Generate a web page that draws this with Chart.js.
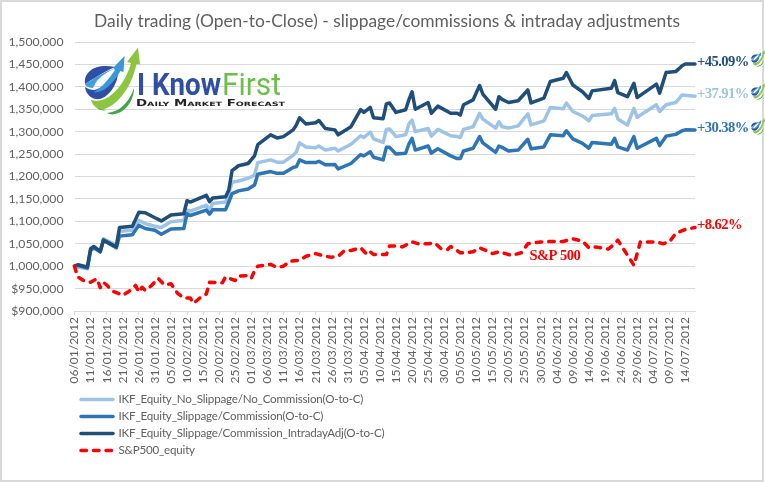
<!DOCTYPE html>
<html>
<head>
<meta charset="utf-8">
<title>Daily trading</title>
<script src="https://cdn.jsdelivr.net/npm/chart.js@4"></script>
<style>
  html, body { margin: 0; padding: 0; background: #fff; overflow: hidden; }
  #wrap { position: relative; width: 765px; height: 482px; overflow: hidden; }
  #frame { position: absolute; left: 0; top: 0; width: 760px; height: 478px; border: 2px solid #d9d9d9; }
  canvas { position: absolute; left: 0; top: 0; }
  svg { position: absolute; left: 0; top: 0; }
</style>
</head>
<body>
<div id="wrap">
  <div id="frame"></div>
  <canvas id="equityChart" width="765" height="482"></canvas>
  <svg width="765" height="482" viewBox="0 0 765 482">
    <defs>
      <g id="logoMark">
        <path d="M115 67 C105 65 95 66 90 71 C85 75 84.5 80 85 84 C92 80 103 72 115 67 Z" fill="#2f4fa6"/>
        <path d="M85 84 C92 80 103 72 113.5 69 C105 74 97 80 93 88 C90 88 87 87 85 85 Z" fill="#3fa0dc"/>
        <path d="M85 87 C88 89 91 90 94 90 C100 90 110 80 118 72 C118 85 108 97 100 99 C92 100 86 95 85 87 Z" fill="#2f4fa6"/>
        <path d="M93 92 C100 90 108 80 115 70 L113 68 L124.5 56 L123.5 72 L120.5 71 C113 84 103 94 93 92 Z" fill="#3a97d8"/>
        <path d="M96 84 C100 78 106 74 112 71" fill="none" stroke="#ffffff" stroke-width="2"/>
        <path d="M91 100 C108 105 125 85 131 63 L127 62 L138 47.5 L140 64.5 L136.5 64 C131 90 115 108 100 110 C96 108 92 104 91 100 Z" fill="#8cc63f"/>
        <path d="M91 101 C94 107 100 110 107 110 C103 111 100 110.500 98 108 C95 107 93 104 91 101 Z" fill="#3fa648"/>
        <path d="M107 113 C118 112 128 105 134 88 C134 100 126 112 115 114 C112 115 109 114 107 113 Z" fill="#3fa648"/>
      </g>
    </defs>
    <use href="#logoMark"/>
    <text x="137" y="95" font-family="Roboto" font-weight="700" font-size="31" fill="#2f4fa6" textLength="84" lengthAdjust="spacingAndGlyphs">I Know</text>
    <text x="222" y="95" font-family="Roboto" font-size="31" fill="#6abf45" textLength="59" lengthAdjust="spacingAndGlyphs">First</text>
    <text x="136" y="105.5" font-family="DejaVu Sans" font-weight="700" font-size="8.5" fill="#222" textLength="149" lengthAdjust="spacingAndGlyphs" style="font-variant: small-caps">Daily Market Forecast</text>
    <use href="#logoMark" transform="translate(730 38) scale(0.25)"/>
    <use href="#logoMark" transform="translate(730 71) scale(0.25)"/>
    <use href="#logoMark" transform="translate(730 106) scale(0.25)"/>
  </svg>
</div>
<script>
const titleText = 'Daily trading (Open-to-Close) - slippage/commissions & intraday adjustments';
const seriesNames = [
  'IKF_Equity_No_Slippage/No_Commission(O-to-C)',
  'IKF_Equity_Slippage/Commission(O-to-C)',
  'IKF_Equity_Slippage/Commission_IntradayAdj(O-to-C)',
  'S&P500_equity'
];
const finalLabels = ['+37.91%', '+30.38%', '+45.09%', '+8.62%'];
const seriesColors = ['#9dc3e6', '#2e75b6', '#1f4e79', '#ff0000'];
const inkColor = '#5f5f5f';

// dd/mm of the turning points, 2012
const equityDates = [
  '06/01', '07/01', '10/01', '11/01', '12/01', '14/01', '15/01', '19/01', '20/01', '24/01',
  '26/01', '28/01', '31/01', '02/02', '05/02', '09/02', '10/02', '11/02', '16/02', '17/02',
  '18/02', '22/02', '23/02', '24/02', '26/02', '29/02', '02/03', '03/03', '07/03', '09/03',
  '11/03', '14/03', '15/03', '16/03', '18/03', '21/03', '22/03', '24/03', '27/03', '28/03',
  '01/04', '04/04', '05/04', '07/04', '08/04', '11/04', '12/04', '13/04', '15/04', '18/04',
  '19/04', '20/04', '21/04', '25/04', '26/04', '28/04', '02/05', '04/05', '05/05', '06/05',
  '09/05', '11/05', '12/05', '16/05', '17/05', '18/05', '20/05', '23/05', '26/05', '27/05',
  '31/05', '02/06', '06/06', '07/06', '09/06', '12/06', '14/06', '15/06', '21/06', '22/06',
  '23/06', '26/06', '28/06', '29/06', '05/07', '06/07', '08/07', '11/07', '13/07', '14/07',
  '17/07'
];
// equity in thousands of dollars
const noSlippage = [
  1000, 998, 994, 1035, 1041, 1032, 1061, 1047, 1078, 1080,
  1102, 1095, 1089, 1086, 1099, 1102, 1125, 1123, 1136, 1125,
  1140, 1143, 1162, 1187, 1190, 1196, 1203, 1231, 1237, 1232,
  1232, 1247, 1255, 1275, 1266, 1264, 1268, 1259, 1263, 1257,
  1272, 1291, 1287, 1299, 1284, 1276, 1305, 1306, 1289, 1293,
  1317, 1326, 1300, 1307, 1290, 1305, 1291, 1289, 1287, 1305,
  1311, 1341, 1328, 1308, 1322, 1311, 1308, 1313, 1340, 1315,
  1324, 1354, 1351, 1364, 1345, 1335, 1324, 1336, 1340, 1352,
  1328, 1315, 1352, 1332, 1360, 1345, 1360, 1365, 1382, 1381,
  1379.1
];
const slippage = [
  1000, 1002, 996, 1035, 1041, 1032, 1058, 1041, 1067, 1070,
  1091, 1084, 1080, 1071, 1083, 1084, 1117, 1113, 1125, 1116,
  1126, 1126, 1143, 1162, 1168, 1172, 1181, 1205, 1211, 1207,
  1207, 1220, 1222, 1237, 1231, 1231, 1234, 1226, 1227, 1217,
  1229, 1249, 1246, 1255, 1243, 1237, 1265, 1265, 1250, 1252,
  1272, 1285, 1259, 1268, 1252, 1262, 1246, 1240, 1240, 1257,
  1263, 1289, 1275, 1254, 1268, 1265, 1257, 1259, 1283, 1262,
  1266, 1293, 1291, 1302, 1284, 1274, 1263, 1276, 1272, 1285,
  1266, 1259, 1289, 1263, 1285, 1269, 1290, 1294, 1302, 1304,
  1303.8
];
const intradayAdj = [
  1000, 1003, 998, 1039, 1044, 1033, 1058, 1043, 1086, 1089,
  1120, 1119, 1108, 1101, 1114, 1117, 1146, 1143, 1158, 1144,
  1152, 1155, 1170, 1213, 1224, 1229, 1246, 1271, 1293, 1286,
  1289, 1304, 1315, 1331, 1317, 1320, 1325, 1307, 1304, 1293,
  1311, 1349, 1343, 1354, 1331, 1329, 1362, 1364, 1343, 1349,
  1371, 1389, 1350, 1365, 1341, 1357, 1341, 1341, 1337, 1360,
  1371, 1403, 1384, 1350, 1378, 1372, 1365, 1369, 1393, 1364,
  1375, 1412, 1419, 1432, 1404, 1389, 1374, 1391, 1397, 1414,
  1387, 1378, 1408, 1376, 1406, 1386, 1432, 1434, 1447, 1451,
  1450.9
];

const spDates = [
  '06/01', '07/01', '09/01', '11/01', '13/01', '14/01', '15/01', '16/01', '18/01', '21/01',
  '23/01', '25/01', '26/01', '27/01', '28/01', '30/01', '01/02', '03/02', '05/02', '07/02',
  '09/02', '11/02', '12/02', '14/02', '16/02', '17/02', '21/02', '22/02', '25/02', '26/02',
  '29/02', '01/03', '02/03', '03/03', '07/03', '09/03', '11/03', '13/03', '16/03', '18/03',
  '21/03', '24/03', '26/03', '28/03', '30/03', '01/04', '04/04', '06/04', '07/04', '08/04',
  '12/04', '13/04', '15/04', '17/04', '20/04', '22/04', '25/04', '27/04', '29/04', '01/05',
  '02/05', '05/05', '07/05', '09/05', '11/05', '13/05', '15/05', '17/05', '19/05', '21/05',
  '24/05', '26/05', '30/05', '02/06', '06/06', '09/06', '12/06', '14/06', '16/06', '20/06',
  '22/06', '23/06', '28/06', '30/06', '05/07', '07/07', '09/07', '11/07', '14/07', '17/07'
];
const spEquity = [
  1000, 976, 967, 964, 972, 952, 964, 958, 944, 935,
  944, 957, 942, 953, 946, 957, 973, 958, 961, 940,
  929, 929, 917, 929, 938, 964, 963, 976, 968, 978,
  979, 973, 990, 1000, 1004, 997, 1000, 1011, 1013, 1022,
  1028, 1022, 1020, 1022, 1035, 1035, 1041, 1026, 1032, 1026,
  1026, 1045, 1045, 1043, 1054, 1050, 1050, 1052, 1039, 1037,
  1044, 1030, 1030, 1032, 1041, 1035, 1028, 1032, 1028, 1024,
  1030, 1050, 1054, 1055, 1055, 1061, 1056, 1041, 1043, 1038,
  1050, 1058, 1002, 1054, 1054, 1050, 1054, 1073, 1082, 1086.2
];

const firstDay = Date.UTC(2012, 0, 6);
const dayOf = (ddmm) => {
  const [d, m] = ddmm.split('/').map(Number);
  return (Date.UTC(2012, m - 1, d) - firstDay) / 86400000;
};
const toPoints = (dates, values) => dates.map((d, i) => ({ x: dayOf(d), y: values[i] * 1000 }));

const formatDay = (offset) => {
  const dt = new Date(firstDay + offset * 86400000);
  const dd = String(dt.getUTCDate()).padStart(2, '0');
  const mm = String(dt.getUTCMonth() + 1).padStart(2, '0');
  return dd + '/' + mm + '/2012';
};

const makeSeries = (i, dates, values, extra) => Object.assign({
  label: seriesNames[i],
  data: toPoints(dates, values),
  borderColor: seriesColors[i],
  borderWidth: 3.5,
  pointRadius: 0,
  tension: 0,
  borderCapStyle: 'round',
  borderJoinStyle: 'round',
  clip: false,
  order: 4 - i
}, extra);

// title, end-of-line percentages, the S&P tag and the stacked legend
const chartNotes = {
  id: 'chartNotes',
  afterDatasetsDraw(chart) {
    const { ctx, scales: { x, y } } = chart;
    ctx.save();
    ctx.textBaseline = 'middle';
    ctx.textAlign = 'center';
    ctx.font = '17.4px Lato';
    ctx.fillStyle = inkColor;
    ctx.fillText(titleText, 387, 21);

    ctx.textAlign = 'left';
    ctx.font = 'bold 14.6px "Liberation Serif"';
    ctx.letterSpacing = '-0.55px';
    chart.data.datasets.forEach((ds, i) => {
      const last = ds.data[ds.data.length - 1];
      ctx.fillStyle = seriesColors[i];
      ctx.fillText(finalLabels[i], x.getPixelForValue(last.x) + 2, y.getPixelForValue(last.y) - 2);
    });
    ctx.fillStyle = seriesColors[3];
    ctx.fillText('S&P 500', x.getPixelForValue(141.5), y.getPixelForValue(1022000));

    ctx.font = '11.6px Lato';
    ctx.letterSpacing = '-0.2px';
    seriesNames.forEach((name, i) => {
      const rowY = 399.5 + i * 17;
      ctx.beginPath();
      ctx.strokeStyle = seriesColors[i];
      ctx.lineWidth = 3.5;
      ctx.lineCap = 'round';
      ctx.setLineDash(i === 3 ? [5.5, 7] : []);
      ctx.moveTo(81, rowY);
      ctx.lineTo(113, rowY);
      ctx.stroke();
      ctx.setLineDash([]);
      ctx.fillStyle = inkColor;
      ctx.fillText(name, 118.5, rowY);
    });
    ctx.restore();
  }
};

new Chart(document.getElementById('equityChart'), {
  type: 'line',
  data: {
    datasets: [
      makeSeries(0, equityDates, noSlippage),
      makeSeries(1, equityDates, slippage),
      makeSeries(2, equityDates, intradayAdj),
      makeSeries(3, spDates, spEquity, { borderDash: [5.5, 7] })
    ]
  },
  options: {
    responsive: false,
    animation: false,
    layout: { padding: { left: 8, right: 70, top: 42, bottom: 0 } },
    plugins: {
      legend: { display: false },
      tooltip: { enabled: false }
    },
    scales: {
      x: {
        type: 'linear',
        min: 0,
        max: 193,
        afterFit: (scale) => { scale.height = 171; },
        grid: { drawOnChartArea: false, drawTicks: true, tickLength: 4, color: '#d9d9d9' },
        border: { display: true, color: '#d9d9d9' },
        ticks: {
          stepSize: 5,
          includeBounds: false,
          autoSkip: false,
          minRotation: 90,
          maxRotation: 90,
          padding: 2,
          color: inkColor,
          font: { family: 'Lato', size: 12 },
          callback: (v) => formatDay(v)
        }
      },
      y: {
        min: 900000,
        max: 1500000,
        afterFit: (scale) => { scale.width = 66.5; },
        grid: { color: '#d9d9d9', drawTicks: false },
        border: { display: false },
        ticks: {
          stepSize: 50000,
          padding: 11,
          color: inkColor,
          font: { family: 'Lato', size: 12.2 },
          callback: (v) => '$' + v.toLocaleString('en-US')
        }
      }
    }
  },
  plugins: [chartNotes]
});
</script>
</body>
</html>
